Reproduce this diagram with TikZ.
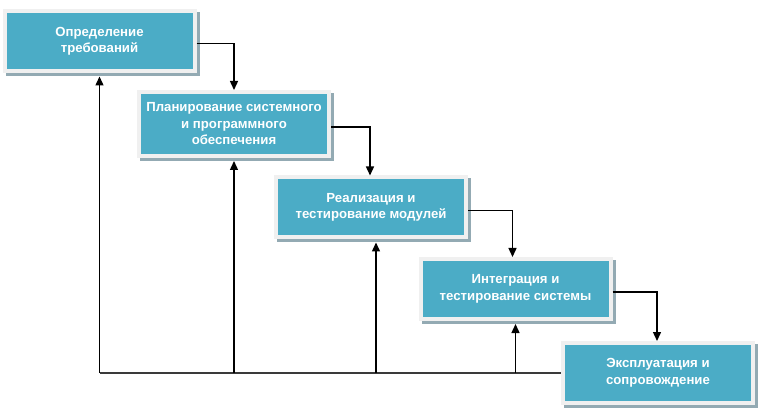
\documentclass[tikz,border=0pt]{standalone}
\usepackage{fontspec}
\setmainfont{Liberation Sans}
\usetikzlibrary{arrows.meta,backgrounds}
\definecolor{tealfill}{HTML}{4BACC6}
\definecolor{boxborder}{HTML}{F0F0F0}
\definecolor{shadowcol}{HTML}{93AAB3}
\definecolor{linecol}{HTML}{3A3A3A}
\tikzset{
  stagebox/.style={draw=boxborder, fill=tealfill, line width=4pt,
    minimum width=190pt, minimum height=60pt, inner sep=2pt,
    align=center, text=white,
    font=\fontsize{13.2pt}{16.5pt}\selectfont\bfseries},
  flowarrow/.style={draw=black, line width=1.4pt,
    -{Triangle[length=9pt,width=8pt]}},
  baseline/.style={draw=linecol, line width=2.2pt}
}
\newcommand{\stageshadow}[1]{%
  \fill[shadowcol] ([shift={(3pt,-3pt)}]#1.south west) rectangle ([shift={(3pt,-3pt)}]#1.north east);}
\begin{document}
\begin{tikzpicture}[x=1pt,y=-1pt]
\useasboundingbox (0,0) rectangle (767,419);
\node[stagebox] (b1) at (99.5,41.5) {Определение\\требований};
\node[stagebox, minimum height=64pt] (b2) at (234,124) {Планирование системного\\и программного\\обеспечения};
\node[stagebox] (b3) at (371,207.5) {Реализация и\\тестирование модулей};
\node[stagebox] (b4) at (515.5,289) {Интеграция и\\тестирование системы};
\node[stagebox] (b5) at (658,373) {Эксплуатация и\\сопровождение};
\begin{scope}[on background layer]
\stageshadow{b1}\stageshadow{b2}\stageshadow{b3}\stageshadow{b4}\stageshadow{b5}
\end{scope}
% forward connectors
\draw[flowarrow] ([yshift=-2pt]b1.east) -| (b2.north);
\draw[flowarrow] ([yshift=-3pt]b2.east) -| ([xshift=-1pt]b3.north);
\draw[flowarrow] ([yshift=-3pt]b3.east) -| ([xshift=-3pt]b4.north);
\draw[flowarrow] ([yshift=-3pt]b4.east) -| ([xshift=-1pt]b5.north);
% feedback
\coordinate (c1) at (b1.south |- b5.west);
\draw[baseline] (c1) -- (b5.west);
\draw[flowarrow] (c1) -- ([yshift=-3pt]b1.south);
\draw[flowarrow] (b2.south |- b5.west) -- ([yshift=-3pt]b2.south);
\draw[flowarrow] ([xshift=5pt]b3.south |- b5.west) -- ([xshift=5pt,yshift=-3pt]b3.south);
\draw[flowarrow] (b4.south |- b5.west) -- ([yshift=-3pt]b4.south);
\end{tikzpicture}
\end{document}
